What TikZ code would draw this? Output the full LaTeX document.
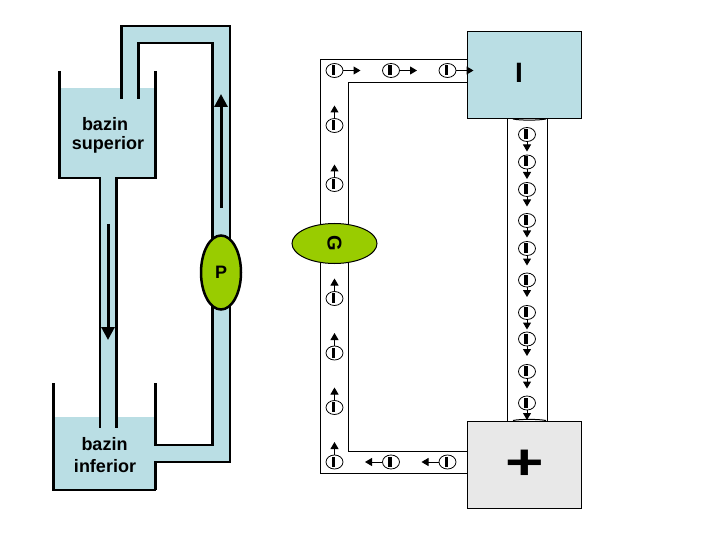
\documentclass[tikz,border=0pt]{standalone}
\usepackage{fontspec}
\setmainfont{Liberation Sans}
\usetikzlibrary{arrows.meta,shapes.geometric}
\definecolor{water}{RGB}{186,222,228}
\definecolor{pumpgreen}{RGB}{153,204,0}
\definecolor{plusgrey}{RGB}{232,232,232}
\tikzset{
  wall/.style={black, line width=2.5pt},
  wire/.style={black, line width=1pt},
  flow/.style={line width=3pt, -{Triangle[length=13pt,width=13pt]}},
  elec/.style={ellipse, draw, line width=0.8pt, minimum width=17pt, minimum height=14pt, inner sep=0pt,
    path picture={\fill (path picture bounding box.center) +(-2.7pt,-4.5pt) rectangle +(0.7pt,5.5pt);}},
  elflow/.style={line width=1pt, -{Triangle[length=7pt,width=8pt]}},
  tag/.style={font=\bfseries\fontsize{18}{22}\selectfont, inner sep=0pt}
}
\begin{document}
\begin{tikzpicture}[x=1pt, y=-1pt]
\useasboundingbox (0,0) rectangle (720,540);
\fill[white] (0,0) rectangle (720,540);
% left circuit
\fill[water] (59.5,88) rectangle (155.5,178);
\fill[water] (53.5,417) rectangle (155.5,490);
\fill[water] (100,178) rectangle (116.5,417);
\fill[water] (121.5,26) rectangle (138.5,99);
\fill[water] (121.5,26) rectangle (230,43);
\fill[water] (212.5,26) rectangle (230,462);
\fill[water] (155.5,445) rectangle (230,462);
\draw[wall] (59.5,71) -- (59.5,178) -- (100,178) -- (100,428);
\draw[wall] (155.5,71) -- (155.5,178) -- (116.5,178) -- (116.5,428);
\draw[wall] (121.5,99) -- (121.5,26) -- (230,26) -- (230,462) -- (155.5,462) -- (155.5,490);
\draw[wall] (138.5,99) -- (138.5,43) -- (212.5,43) -- (212.5,445) -- (155.5,445) -- (155.5,383);
\draw[wall] (53.5,383) -- (53.5,490) -- (155.5,490);
\coordinate (downa) at (108,224);
\coordinate (downb) at (108,340);
\coordinate (upa) at (221,208);
\coordinate (upb) at (221,94);
\draw[flow] (downa) -- (downb);
\draw[flow] (upa) -- (upb);
\node[ellipse, draw, wall, fill=pumpgreen, minimum width=40pt, minimum height=74pt, inner sep=0pt, font=\bfseries\fontsize{18}{18}\selectfont] (pump) at (221,272.5) {P};
\node[tag] (upa1) at (105,124) {bazin};
\node[tag] (upa2) at (108,145) {superior};
\node[tag] (lowa1) at (104.5,444) {bazin};
\node[tag] (lowa2) at (105,466) {inferior};
% right circuit
\draw[wire] (467.5,59.5) -- (320.5,59.5) -- (320.5,473.5) -- (467.5,473.5);
\draw[wire] (467.5,82.5) -- (348.5,82.5) -- (348.5,451.5) -- (467.5,451.5);
\draw[wire] (507.5,118) -- (507.5,421);
\draw[wire] (547.5,118) -- (547.5,421);
\draw[wire] (513,119) .. controls (520,120.5) and (538,120.5) .. (546,119);
\draw[wire] (513,420.5) .. controls (520,419) and (538,419) .. (546,420.5);
\node[draw, wire, fill=water, minimum width=114pt, minimum height=87pt, inner sep=0pt] (minus) at (524.5,75) {};
\node[draw, wire, fill=plusgrey, minimum width=114pt, minimum height=87pt, inner sep=0pt] (plus) at (524.5,465) {};
\node[inner sep=0pt, font=\bfseries\fontsize{28}{28}\selectfont] (minuslabel) at (519,73) {I};
\node[inner sep=0pt, font=\bfseries\fontsize{66}{66}\selectfont] (pluslabel) at (524.5,465) {\scalebox{1}[0.76]{+}};
\node[ellipse, draw, wire, fill=pumpgreen, minimum width=85pt, minimum height=40pt, inner sep=0pt] (gen) at (334.5,243.5) {\rotatebox{-90}{\bfseries\fontsize{20}{20}\selectfont G}};
% charges
\foreach \i/\ex in {1/334.5,2/391,3/447.5} {
  \node[elec] (top\i) at (\ex,70.5) {};
  \coordinate (topend\i) at (\ex+26,70.5);
  \draw[elflow] (top\i.east) -- (topend\i);
}
\foreach \i/\ey in {1/125.5,2/184.5,3/298.5,4/353,5/407.5,6/462} {
  \node[elec] (side\i) at (334.5,\ey) {};
  \coordinate (sideend\i) at (334.5,\ey-20);
  \draw[elflow] (side\i.north) -- (sideend\i);
}
\foreach \i/\ex in {1/391,2/447.5} {
  \node[elec] (bot\i) at (\ex,462) {};
  \coordinate (botend\i) at (\ex-26,462);
  \draw[elflow] (bot\i.west) -- (botend\i);
}
\foreach \i/\ey in {1/134.5,2/162,3/189.5,4/220.5,5/248.5,6/280,7/312.5,8/339,9/371.5,10/403} {
  \node[elec] (right\i) at (527,\ey) {};
  \coordinate (rightend\i) at (527,\ey+17);
  \draw[elflow] (right\i.south) -- (rightend\i);
}
\end{tikzpicture}
\end{document}
